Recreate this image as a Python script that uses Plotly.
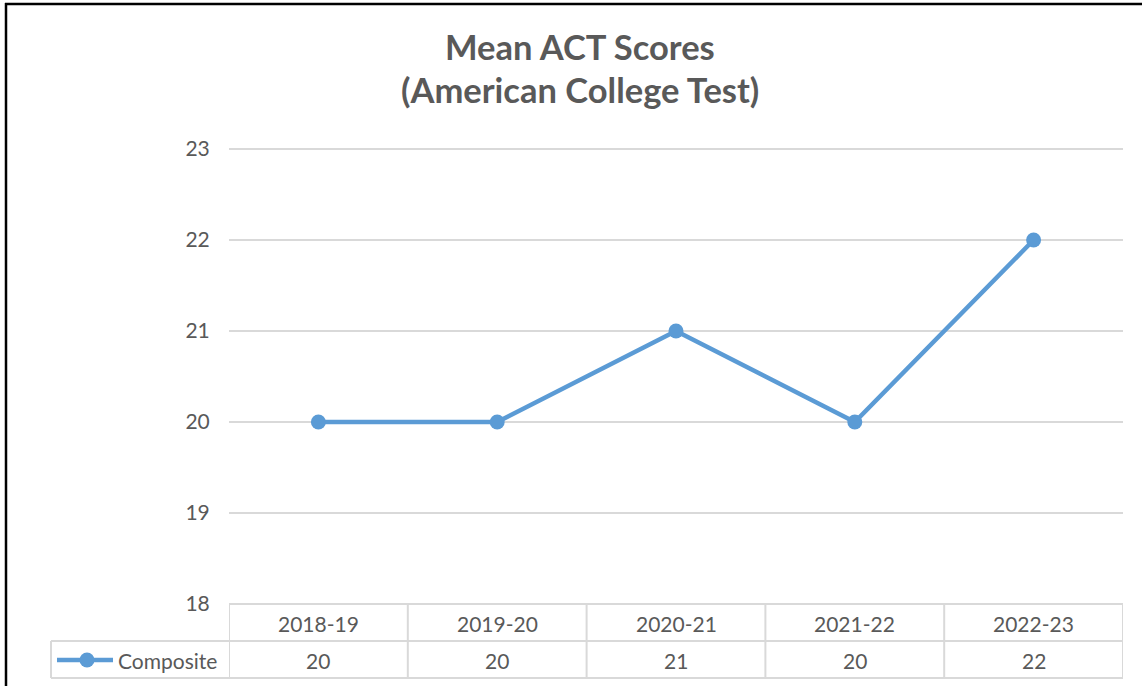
import plotly.graph_objects as go

categories = ["2018-19", "2019-20", "2020-21", "2021-22", "2022-23"]
composite = [20, 20, 21, 20, 22]
series_name = "Composite"
y_ticks = [18, 19, 20, 21, 22, 23]
title_lines = ["Mean ACT Scores", "(American College Test)"]

W, H = 1142, 686
LINE = "#5b9bd5"
GRID = "#d9d9d9"
TXT = "#595959"
FONT = "Lato, Open Sans, sans-serif"

def px(x):
    return x / W

def py(y):
    return 1 - y / H

fig = go.Figure()
fig.add_trace(go.Scatter(
    x=categories, y=composite, mode="lines+markers", name=series_name,
    line=dict(color=LINE, width=4.5),
    marker=dict(color=LINE, size=15),
    showlegend=False, cliponaxis=False, hoverinfo="skip",
))

shapes = []
annotations = []
n = len(categories)
# plot edge lines (top gridline / table top)
for yy in [149, 604]:
    shapes.append(dict(type="line", xref="paper", yref="paper", layer="below",
                       x0=px(229), x1=px(1123), y0=py(yy), y1=py(yy),
                       line=dict(color=GRID, width=2)))
# table horizontal lines
for yy in [641, 678]:
    shapes.append(dict(type="line", xref="paper", yref="paper",
                       x0=px(51), x1=px(1123), y0=py(yy), y1=py(yy),
                       line=dict(color=GRID, width=2)))
# vertical lines at category boundaries
for i in range(n + 1):
    shapes.append(dict(type="line", xref="x", yref="paper",
                       x0=i - 0.5, x1=i - 0.5, y0=py(604), y1=py(678),
                       line=dict(color=GRID, width=2)))
shapes.append(dict(type="line", xref="paper", yref="paper",
                   x0=px(51), x1=px(51), y0=py(641), y1=py(678),
                   line=dict(color=GRID, width=2)))
# outer border
shapes.append(dict(type="line", xref="paper", yref="paper",
                   x0=px(6), x1=px(6), y0=py(3), y1=0,
                   line=dict(color="black", width=2.5)))
shapes.append(dict(type="line", xref="paper", yref="paper",
                   x0=px(5), x1=1, y0=py(4), y1=py(4),
                   line=dict(color="black", width=2.5)))
# legend key
shapes.append(dict(type="line", xref="paper", yref="paper",
                   x0=px(57), x1=px(113), y0=py(660), y1=py(660),
                   line=dict(color=LINE, width=4.5)))
shapes.append(dict(type="circle", xref="paper", yref="paper",
                   x0=px(79.5), x1=px(94.5), y0=py(667.5), y1=py(652.5),
                   fillcolor=LINE, line=dict(color=LINE, width=0)))

tfont = dict(size=21, color=TXT, family=FONT)
for c, v in zip(categories, composite):
    annotations.append(dict(x=c, xref="x", y=py(623), yref="paper",
                            text=c, showarrow=False, yanchor="middle",
                            xanchor="center", font=tfont))
    annotations.append(dict(x=c, xref="x", y=py(660), yref="paper",
                            text=str(v), showarrow=False, yanchor="middle",
                            xanchor="center", font=tfont))
annotations.append(dict(x=px(116), xref="paper", y=py(660), yref="paper",
                        text=series_name, showarrow=False, xanchor="left",
                        yanchor="middle", font=tfont))
for line_text, yy in zip(title_lines, [47, 90]):
    annotations.append(dict(x=px(580), xref="paper", y=py(yy), yref="paper",
                            text="<b>" + line_text + "</b>",
                            showarrow=False, xanchor="center", yanchor="middle",
                            font=dict(size=34.5, color=TXT, family=FONT)))

fig.update_layout(
    width=W, height=H, margin=dict(l=0, r=0, t=0, b=0, pad=0, autoexpand=False),
    paper_bgcolor="white", plot_bgcolor="white",
    shapes=shapes, annotations=annotations,
    xaxis=dict(domain=[px(229), px(1123)], range=[-0.5, n - 0.5],
               showticklabels=False, showgrid=False, zeroline=False,
               ticks="", showline=False, fixedrange=True, automargin=False),
    yaxis=dict(domain=[py(604), py(149)], range=[18, 23],
               tickvals=y_ticks, showgrid=True, gridcolor=GRID, gridwidth=2,
               zeroline=False, showline=False,
               ticks="outside", ticklen=14, tickcolor="rgba(0,0,0,0)",
               tickfont=tfont, fixedrange=True, automargin=False),
    font=dict(family=FONT),
    hovermode=False,
)

post = (
    "var gd=document.getElementById('{plot_id}');"
    "document.body.style.margin='0';"
    "document.documentElement.style.overflow='hidden';"
    "gd.style.position='absolute';gd.style.top='0px';gd.style.left='0px';"
)

fig.write_html("out.html", config={"displayModeBar": False}, post_script=post)
